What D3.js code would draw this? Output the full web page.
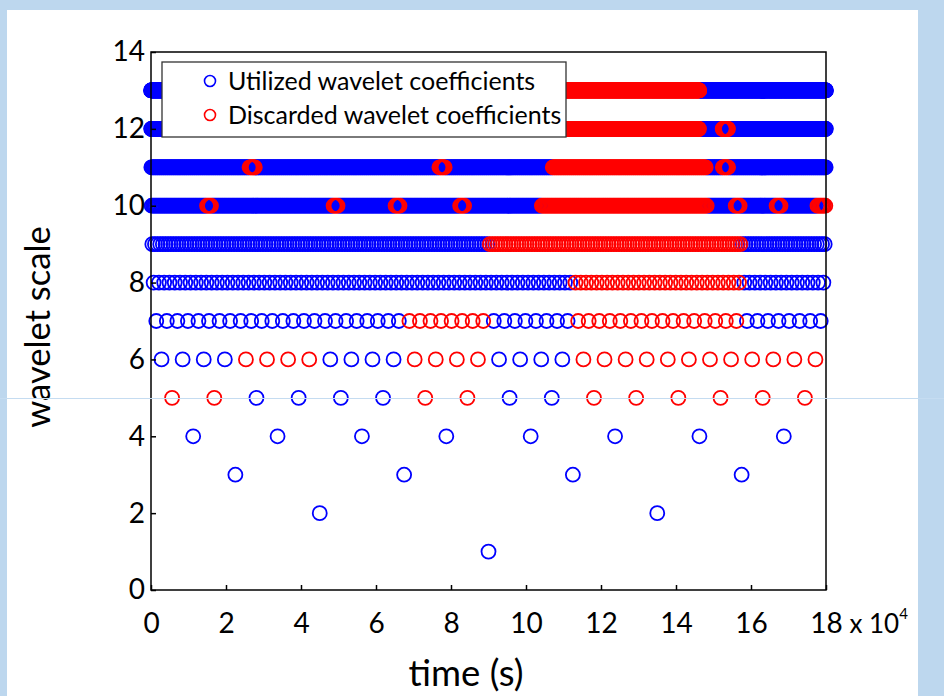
<!DOCTYPE html>
<html lang="en">
<head>
<meta charset="UTF-8">
<title>Wavelet coefficients</title>
<script src="https://d3js.org/d3.v7.min.js"></script>
<style>
    body {
        margin: 0;
        background: #bdd7ee;
    }
    svg {
        display: block;
    }
    text {
        font-family: Lato, "Open Sans", sans-serif;
        fill: #000;
    }
</style>
</head>
<body>
<svg id="chart" width="944" height="696"></svg>
<script>
    // wavelet scales and how many coefficients each one has (dyadic)
    const scaleLevels = [1, 2, 3, 4, 5, 6, 7, 8, 9, 10, 11, 12, 13];
    const coefCounts = [1, 2, 4, 8, 16, 32, 64, 128, 256, 512, 1024, 2048, 4096];
    const timeMax = 18; // x 10^4 s

    // time spans (x 10^4 s) where coefficients are discarded, one list per scale
    const discardedSpans = [
        [],
        [],
        [],
        [],
        [[0, 2.25], [6.75, 9], [11.25, 18]],
        [[2.25, 4.5], [6.75, 9], [11.25, 18]],
        [[6.75, 9], [11.25, 15.75]],
        [[11.25, 15.75]],
        [[9, 15.75]],
        [[1.48, 1.62], [4.86, 5.0], [6.52, 6.66], [8.22, 8.36], [10.4, 14.85], [15.56, 15.7], [16.65, 16.79], [17.77, 18]],
        [[2.62, 2.77], [7.69, 7.84], [10.7, 14.8], [15.24, 15.39]],
        [[10.6, 14.62], [15.24, 15.39]],
        [[10.6, 14.62]]
    ];

    const xTicks = [0, 2, 4, 6, 8, 10, 12, 14, 16, 18];
    const yTicks = [0, 2, 4, 6, 8, 10, 12, 14];
    const legendLabels = ["Utilized wavelet coefficients", "Discarded wavelet coefficients"];
    const seriesColors = ["#0000ff", "#ff0000"];

    const plot = { left: 151, right: 826, top: 52, bottom: 590 };
    const svg = d3.select("#chart");

    svg.append("rect")
        .attr("x", 7).attr("y", 10)
        .attr("width", 911).attr("height", 686)
        .attr("fill", "#fff");

    const x = d3.scaleLinear().domain([0, timeMax]).range([plot.left, plot.right]);
    const y = d3.scaleLinear().domain([0, 14]).range([plot.bottom, plot.top]);

    // one entry per coefficient, centred in its time slot
    let coefs = [];
    scaleLevels.forEach((s, k) => {
        let n = coefCounts[k];
        let step = timeMax / n;
        for (let i = 0; i < n; i++) {
            let t = (i + 0.5) * step;
            let discarded = discardedSpans[k].some(([a, b]) => t >= a && t < b);
            coefs.push({ scale: s, time: t, discarded: discarded });
        }
    });

    // blue series first, red drawn on top (like the original)
    [false, true].forEach((flag, i) => {
        svg.append("g")
            .selectAll("circle")
            .data(coefs.filter(d => d.discarded === flag))
            .join("circle")
            .attr("cx", d => x(d.time))
            .attr("cy", d => y(d.scale))
            .attr("r", 7)
            .attr("fill", "none")
            .attr("stroke", seriesColors[i])
            .attr("stroke-width", 1.8);
    });

    // axes, ticks pointing inward
    svg.append("g")
        .attr("transform", `translate(${plot.left},0)`)
        .call(d3.axisLeft(y).tickValues(yTicks).tickSizeInner(-5).tickSizeOuter(0).tickPadding(6))
        .attr("font-family", null)
        .attr("font-size", 28)
        .call(g => g.select(".domain").remove())
        .call(g => g.selectAll("line").attr("stroke-width", 1.5));

    const xAxisG = svg.append("g")
        .attr("transform", `translate(0,${plot.bottom})`)
        .call(d3.axisBottom(x).tickValues(xTicks).tickSizeInner(-5).tickSizeOuter(0).tickPadding(23))
        .attr("font-family", null)
        .attr("font-size", 28)
        .call(g => g.select(".domain").remove())
        .call(g => g.selectAll("line").attr("stroke-width", 1.5));

    // last tick carries the multiplier "x 10^4"
    let lastLabel = xAxisG.selectAll(".tick text").filter(d => d === timeMax);
    let numW = lastLabel.node().getComputedTextLength();
    lastLabel.attr("text-anchor", "start").attr("x", -numW / 2);
    lastLabel.append("tspan").attr("font-size", 26).text(" x 10");
    lastLabel.append("tspan").attr("font-size", 15).attr("dy", "-0.9em").text("4");

    svg.append("rect")
        .attr("x", plot.left).attr("y", plot.top)
        .attr("width", plot.right - plot.left).attr("height", plot.bottom - plot.top)
        .attr("fill", "none")
        .attr("stroke", "#000")
        .attr("stroke-width", 1.5);

    // axis titles
    svg.append("text")
        .attr("transform", "translate(38,327) rotate(-90)")
        .attr("text-anchor", "middle")
        .attr("dy", "0.35em")
        .attr("font-size", 34.5)
        .text("wavelet scale");

    svg.append("text")
        .attr("x", 466).attr("y", 686)
        .attr("text-anchor", "middle")
        .attr("font-size", 36.5)
        .text("time (s)");

    // legend
    const legend = svg.append("g").attr("transform", "translate(162,62)");
    legend.append("rect")
        .attr("width", 404).attr("height", 75)
        .attr("fill", "#fff")
        .attr("stroke", "#333")
        .attr("stroke-width", 1.3);

    legendLabels.forEach((label, i) => {
        let row = legend.append("g").attr("transform", `translate(0,${19 + i * 34})`);
        row.append("circle")
            .attr("cx", 48).attr("r", 5.5)
            .attr("fill", "none")
            .attr("stroke", seriesColors[i])
            .attr("stroke-width", 1.6);
        row.append("text")
            .attr("x", 66)
            .attr("dy", "0.35em")
            .attr("font-size", 25)
            .text(label);
    });

    // thin pale line running across the whole picture
    svg.append("line")
        .attr("x1", 0).attr("x2", 944)
        .attr("y1", 398.5).attr("y2", 398.5)
        .attr("stroke", "#c5dcf1")
        .attr("stroke-width", 1);
</script>
</body>
</html>
